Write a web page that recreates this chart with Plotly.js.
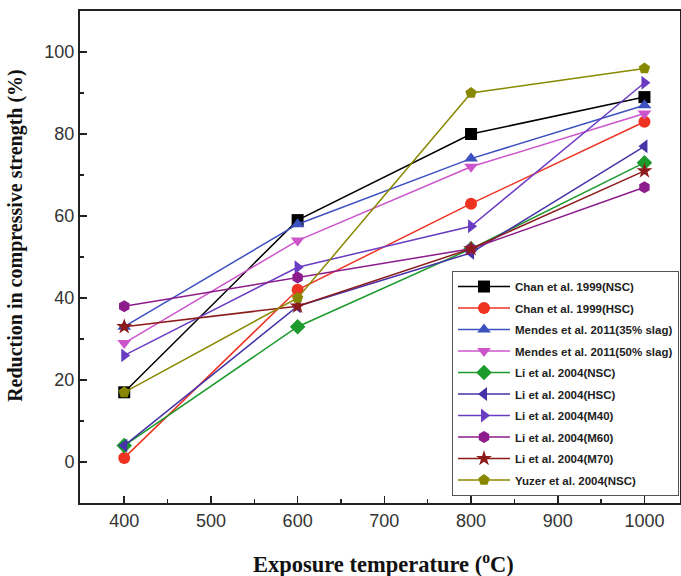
<!DOCTYPE html>
<html><head><meta charset="utf-8">
<script src="https://cdn.plot.ly/plotly-3.0.1.min.js"></script>
<style>html,body{margin:0;padding:0;background:#fff}</style>
</head><body>
<div id="chart" style="width:681px;height:576px"></div>
<script>
const temps = [400, 600, 800, 1000];
const names = ["Chan et al. 1999(NSC)","Chan et al. 1999(HSC)","Mendes et al. 2011(35% slag)","Mendes et al. 2011(50% slag)","Li et al. 2004(NSC)","Li et al. 2004(HSC)","Li et al. 2004(M40)","Li et al. 2004(M60)","Li et al. 2004(M70)","Yuzer et al. 2004(NSC)"];
const chanNSC = [17, 59, 80, 89];
const chanHSC = [1, 42, 63, 83];
const mendes35 = [33, 58, 74, 87];
const mendes50 = [29, 54, 72, 85];
const liNSC = [4, 33, 52, 73];
const liHSC = [4, 38, 51, 77];
const liM40 = [26, 47.5, 57.5, 92.5];
const liM60 = [38, 45, 52, 67];
const liM70 = [33, 38, 52, 71];
const yuzer = [17, 40, 90, 96];
const xTitle = "Exposure temperature (<sup>o</sup>C)";
const yTitle = "Reduction in compressive strength (%)";
const series = [chanNSC, chanHSC, mendes35, mendes50, liNSC, liHSC, liM40, liM60, liM70, yuzer];
const colors = ["#000000","#ee3322","#3c50c0","#cc55cc","#1c9a2c","#4434a8","#6a3cc4","#8c1c8c","#8c1c1c","#888800"];
const symbols = ["square","circle","triangle-up","triangle-down","diamond","triangle-left","triangle-right","hexagon","star","pentagon"];
const traces = series.map((s, i) => ({
  x: temps, y: s, name: names[i], type: "scatter", mode: "lines+markers",
  legendgroup: "g" + i,
  line: {color: colors[i], width: 1.5},
  marker: {symbol: symbols[i], color: colors[i], size: 12, line: {width: 0}}
}));
const serif = "Liberation Serif, Times New Roman, serif";
const layout = {
  width: 681, height: 576,
  margin: {l: 80, r: 1, t: 11, b: 73},
  paper_bgcolor: "#fff", plot_bgcolor: "#fff",
  showlegend: true,
  font: {family: "Liberation Sans, Arial, sans-serif", color: "#333"},
  xaxis: {
    range: [349, 1041], tickvals: [400,500,600,700,800,900,1000],
    ticks: "inside", ticklen: 7, tickwidth: 1.5, tickcolor: "#222",
    minor: {ticks: "inside", ticklen: 4, tickwidth: 1.5, tickcolor: "#222", dtick: 50},
    showline: true, linecolor: "#222", linewidth: 2, mirror: true,
    showgrid: false, zeroline: false,
    tickfont: {size: 18, color: "#333"}
  },
  yaxis: {
    range: [-10, 110], tickvals: [0,20,40,60,80,100],
    ticks: "inside", ticklen: 7, tickwidth: 1.5, tickcolor: "#222",
    minor: {ticks: "inside", ticklen: 4, tickwidth: 1.5, tickcolor: "#222", dtick: 10},
    showline: true, linecolor: "#222", linewidth: 2, mirror: true,
    showgrid: false, zeroline: false,
    tickfont: {size: 18, color: "#333"}
  },
  annotations: [
    {text: xTitle, xref: "paper", yref: "paper", x: 0.505, y: -0.122, xanchor: "center", yanchor: "middle",
     showarrow: false, font: {family: serif, size: 22.5, color: "#111", weight: "bold"}},
    {text: yTitle, xref: "paper", yref: "paper", x: -0.1067, y: 0.545, xanchor: "center", yanchor: "middle",
     textangle: -90, showarrow: false, font: {family: serif, size: 20, color: "#111", weight: "bold"}}
  ],
  legend: {
    x: 0.62, y: 0.4715, xanchor: "left", yanchor: "top",
    bgcolor: "#fff", bordercolor: "#555", borderwidth: 1,
    font: {size: 11.5, color: "#222", weight: "bold"},
    itemwidth: 52, tracegroupgap: 2.5
  }
};
Plotly.newPlot("chart", traces, layout, {displayModeBar: false, staticPlot: true});
</script>
</body></html>
